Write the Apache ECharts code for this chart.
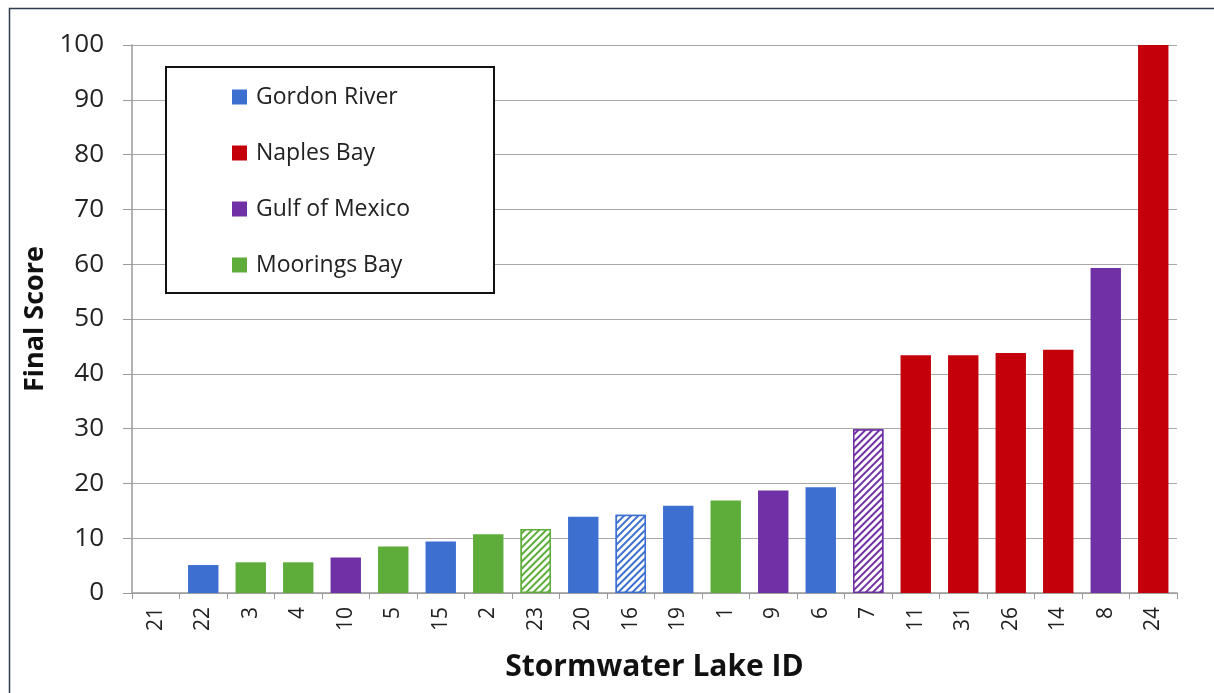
<!DOCTYPE html>
<html>
<head>
<meta charset="utf-8">
<script src="https://cdn.jsdelivr.net/npm/echarts@6/dist/echarts.min.js"></script>
<style>
html,body{margin:0;padding:0;background:#fff;}
#chart{width:1214px;height:693px;}
</style>
</head>
<body>
<div id="chart"></div>
<script>
// Data
const lakeIds = ['21','22','3','4','10','5','15','2','23','20','16','19','1','9','6','7','11','31','26','14','8','24'];
const scores  = [0, 5.1, 5.6, 5.6, 6.5, 8.5, 9.4, 10.7, 11.7, 13.9, 14.3, 15.9, 16.9, 18.7, 19.3, 29.9, 43.4, 43.4, 43.8, 44.4, 59.3, 100];
const regions = ['Gordon River','Gordon River','Moorings Bay','Moorings Bay','Gulf of Mexico','Moorings Bay','Gordon River','Moorings Bay','Moorings Bay','Gordon River','Gordon River','Gordon River','Moorings Bay','Gulf of Mexico','Gordon River','Gulf of Mexico','Naples Bay','Naples Bay','Naples Bay','Naples Bay','Gulf of Mexico','Naples Bay'];
const hatchedIds = ['23','16','7'];
const seriesNames = ['Gordon River','Naples Bay','Gulf of Mexico','Moorings Bay'];
const seriesColors = ['#3D6FD0','#C4000B','#7030A6','#5EAD3B'];
const yTicks = [0,10,20,30,40,50,60,70,80,90,100];

const FONT = '"Open Sans", sans-serif';

const series = seriesNames.map((name, si) => ({
  name: name,
  type: 'bar',
  stack: 'all',
  barWidth: '64%',
  itemStyle: { color: seriesColors[si] },
  data: lakeIds.map((id, i) => {
    if (regions[i] !== name) return '-';
    if (hatchedIds.indexOf(id) >= 0) {
      return {
        value: scores[i],
        itemStyle: {
          color: '#ffffff',
          borderColor: seriesColors[si],
          borderWidth: 1.5,
          decal: {
            symbol: 'rect',
            color: seriesColors[si],
            backgroundColor: '#ffffff',
            dashArrayX: [1, 0],
            dashArrayY: [1.3, 2.7],
            rotation: -Math.PI / 4
          }
        }
      };
    }
    return scores[i];
  })
}));

const chart = echarts.init(document.getElementById('chart'), null, {renderer: 'canvas'});
chart.setOption({
  animation: false,
  backgroundColor: '#ffffff',
  grid: { left: 132, right: 37, top: 45, bottom: 100, containLabel: false },
  graphic: [
    { type: 'rect', left: 7, top: 6, shape: { width: 1400, height: 900 }, style: { fill: 'none', stroke: '#2E3B4E', lineWidth: 1.5 }, z: 100 },
    { type: 'rect', left: 165, top: 66, shape: { width: 328, height: 226 }, style: { fill: '#ffffff', stroke: '#111111', lineWidth: 2 }, z: 5 }
  ],
  legend: {
    orient: 'vertical',
    left: 232,
    top: 85,
    itemGap: 32,
    itemWidth: 15,
    itemHeight: 15,
    icon: 'rect',
    z: 10,
    padding: 0,
    textStyle: { fontFamily: FONT, fontSize: 23, lineHeight: 24, color: '#222', padding: [0,0,0,4] },
    data: seriesNames
  },
  xAxis: {
    type: 'category',
    data: lakeIds,
    name: 'Stormwater Lake ID',
    nameLocation: 'middle',
    nameGap: 59,
    nameTextStyle: { fontFamily: FONT, fontSize: 30, fontWeight: 'bold', color: '#111' },
    axisLine: { lineStyle: { color: '#9A9A9A', width: 1.5 } },
    axisTick: { show: true, alignWithLabel: false, length: 6, lineStyle: { color: '#9A9A9A' } },
    axisLabel: { rotate: 90, fontFamily: FONT, fontSize: 21, color: '#222', margin: 14, interval: 0 }
  },
  yAxis: {
    type: 'value',
    min: 0, max: 100, interval: 10,
    name: 'Final Score',
    nameLocation: 'middle',
    nameGap: 80,
    nameTextStyle: { fontFamily: FONT, fontSize: 27, fontWeight: 'bold', color: '#111' },
    axisLine: { show: true, lineStyle: { color: '#9A9A9A', width: 1.5 } },
    axisTick: { show: true, length: 9, lineStyle: { color: '#9A9A9A' } },
    axisLabel: { fontFamily: FONT, fontSize: 26, color: '#222', margin: 28,
      formatter: v => yTicks.indexOf(v) >= 0 ? String(v) : '' },
    splitLine: { lineStyle: { color: '#A8A8A8', width: 1.2 } }
  },
  series: series
});
</script>
</body>
</html>
